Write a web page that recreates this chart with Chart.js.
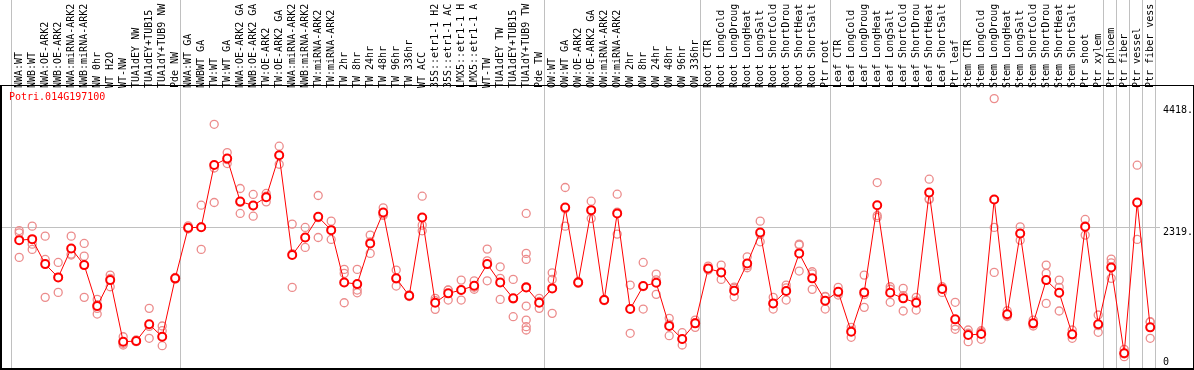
<!DOCTYPE html>
<html><head><meta charset="utf-8">
<script src="https://cdn.jsdelivr.net/npm/chart.js@4.4.1/dist/chart.umd.min.js"></script>
<style>html,body{margin:0;padding:0;background:#fff;overflow:hidden}</style>
</head><body><canvas id="c" width="1194" height="370"></canvas>
<script>
const geneId = "Potri.014G197100";
const categories = ["NWA:WT","NWB:WT","NWA:OE-ARK2","NWB:OE-ARK2","NWA:miRNA-ARK2","NWB:miRNA-ARK2","NW 0hr","WT H2O","WT-NW","TUA1dEY NW","TUA1dEY+TUB15","TUA1dY+TUB9 NW","Pde NW",
"NWA:WT GA","NWBWT GA","TW:WT","TW:WT GA","NWA:OE-ARK2 GA","NWB:OE-ARK2 GA","TW:OE-ARK2","TW:OE-ARK2 GA","NWA:miRNA-ARK2","NWB:miRNA-ARK2","TW:miRNA-ARK2","TW:miRNA-ARK2","TW 2hr","TW 8hr","TW 24hr","TW 48hr","TW 96hr","TW 336hr","WT ACC","35S::etr1-1 H2","35S::etr1-1 AC","LMX5::etr1-1 H","LMX5::etr1-1 A","WT-TW","TUA1dEY TW","TUA1dEY+TUB15","TUA1dY+TUB9 TW","Pde TW",
"OW:WT","OW:WT GA","OW:OE-ARK2","OW:OE-ARK2 GA","OW:miRNA-ARK2","OW:miRNA-ARK2","OW 2hr","OW 8hr","OW 24hr","OW 48hr","OW 96hr","OW 336hr",
"Root CTR","Root LongCold","Root LongDroug","Root LongHeat","Root LongSalt","Root ShortCold","Root ShortDrou","Root ShortHeat","Root ShortSalt","Ptr root",
"Leaf CTR","Leaf LongCold","Leaf LongDroug","Leaf LongHeat","Leaf LongSalt","Leaf ShortCold","Leaf ShortDrou","Leaf ShortHeat","Leaf ShortSalt","Ptr leaf",
"Stem CTR","Stem LongCold","Stem LongDroug","Stem LongHeat","Stem LongSalt","Stem ShortCold","Stem ShortDrou","Stem ShortHeat","Stem ShortSalt","Ptr shoot","Ptr xylem",
"Ptr phloem","Ptr fiber","Ptr vessel","Ptr fiber vess"];
const means = [2104,2121,1690,1461,1961,1673,966,1414,350,362,650,436,1444,
2317,2328,3403,3513,2772,2703,2846,3571,1846,2150,2506,2277,1374,1345,2047,2582,1444,1144,2496,1023,1185,1242,1316,1690,1374,1099,1288,1023,
1271,2668,1374,2622,1069,2565,914,1311,1368,621,397,667,
1616,1547,1230,1702,2237,1012,1225,1875,1444,1058,
1213,523,1202,2708,1195,1099,1023,2927,1259,736,
466,483,2806,823,2220,667,1414,1195,477,2334,650,
1633,150,2754,598];
const replicates = [
[2270,2230,1806],[2346,2035,1944],[2173,1771,1116],[1719,1462,1202],[2173,1863,1847],[2047,1828,1116],[1081,990,926,828],[1500,1443,1299],[436,321,293],[380,355,350],[926,615,409],[621,540,281],[1460,1430,1440],
[2350,2300,2300],[2708,2332,1944],[4105,3350,2754],[3617,3495,3427],[2996,2755,2565],[2893,2698,2518],[2910,2863,2765],[3726,3572,3415],[2381,1869,1288],[2323,2149,1978],[2875,2493,2150],[2432,2283,2116],[1599,1530,1023],[1599,1242,1195],[2191,2075,1875],[2662,2553,2531],[1587,1434,1311],[1160,1130,1142],[2863,2363,2265],[1099,1061,909],[1244,1242,1069],[1414,1243,1069],[1402,1290,1256],[1949,1747,1402],[1644,1444,1081],[1426,1089,782],[2565,1875,1771,1300,966,724,609,552],[1099,1044,926],
[1540,1426,840],[3013,2645,2346],[1390,1374,1358],[2777,2611,2478],[1060,1080,1067],[2898,2589,2208],[1328,919,495],[1719,1300,914],[1518,1418,1168],[754,655,454],[506,392,293],[724,679,598],
[1656,1605,1587],[1673,1542,1426],[1293,1271,1126],[1816,1663,1627],[2432,2204,2075],[1116,1006,914],[1328,1278,1069],[2035,2020,1570],[1558,1520,1254],[1134,1126,914],
[1288,1195,1156],[598,545,426],[1500,1163,943],[3099,2529,2496],[1299,1256,1030],[1271,1146,880],[1116,1056,897],[3157,2818,2806],[1299,1276,1202],[1030,621,564],
[552,496,350],[540,518,391],[4548,2323,1547],[885,800,785],[2334,2222,2104],[724,657,621],[1673,1530,1012],[1414,1288,880],[552,470,409],[2461,2350,2191],[811,627,512],
[1777,1713,1444],[219,140,91],[3398,2748,2116],[695,690,409]];
const yTickValues = [0, 2319, 4418];
const yTickLabels = ["0", "2319.", "4418."];
const groupEnds = [0, 13, 41, 53, 63, 73, 84, 85, 86, 87, 88];

const FONT = "'DejaVu Sans Mono', 'Liberation Mono', monospace";
const meanPoints = means.map((v, i) => ({x: i + 1, y: v}));
const repPoints = replicates.flatMap((arr, i) => arr.map(v => ({x: i + 1, y: v})));

const framePlugin = {
  id: 'frame',
  beforeDatasetsDraw(chart) {
    const ctx = chart.ctx, xs = chart.scales.x;
    ctx.save();
    ctx.strokeStyle = '#c0c0c0';
    ctx.lineWidth = 1;
    groupEnds.forEach(g => {
      const px = Math.round(xs.getPixelForValue(g + 0.385)) + 0.5;
      ctx.beginPath(); ctx.moveTo(px, 0); ctx.lineTo(px, chart.height); ctx.stroke();
    });
    ctx.fillStyle = '#ff0000';
    ctx.font = "10px " + FONT;
    ctx.textBaseline = 'alphabetic';
    ctx.textAlign = 'left';
    ctx.fillText(geneId, 9, 100);
    ctx.restore();
  },
  afterDraw(chart) {
    const ctx = chart.ctx, a = chart.chartArea, W = chart.width, H = chart.height;
    ctx.save();
    ctx.fillStyle = '#000';
    ctx.fillRect(0, a.top - 1, W, 1);
    ctx.fillRect(0, H - 2, W, 2);
    ctx.fillRect(0, a.top - 1, 2, H - a.top + 1);
    ctx.fillRect(W - 1, a.top - 1, 1, H - a.top + 1);
    ctx.restore();
  }
};

function zeroPad(s) { s.paddingLeft = 0; s.paddingRight = 0; s.paddingTop = 0; s.paddingBottom = 0; }

new Chart(document.getElementById('c'), {
  data: {
    datasets: [
      {type: 'line', data: meanPoints, order: 1, borderColor: '#ff0000', borderWidth: 1, tension: 0,
       pointRadius: 4, pointBorderWidth: 2, pointBorderColor: '#ff0000', pointBackgroundColor: '#ffffff'},
      {type: 'scatter', data: repPoints, order: 2, pointRadius: 4, pointBorderWidth: 1.3,
       pointBorderColor: 'rgba(236,140,140,1)', pointBackgroundColor: 'rgba(0,0,0,0)'}
    ]
  },
  options: {
    responsive: false, animation: false, devicePixelRatio: 1,
    layout: {autoPadding: false, padding: {left: 2, right: 0, top: 0, bottom: 2}},
    plugins: {legend: {display: false}, tooltip: {enabled: false}, title: {display: false}},
    scales: {
      x: {
        type: 'linear', position: 'top', min: -0.323, max: 88.754,
        afterFit: s => { s.height = 86; zeroPad(s); },
        afterBuildTicks: s => { s.ticks = categories.map((_, i) => ({value: i + 1})); },
        ticks: {autoSkip: false, maxRotation: 90, minRotation: 90, padding: 2, mirror: true, color: '#000',
          font: {family: FONT, size: 10}, callback: v => categories[v - 1]},
        grid: {display: false, drawTicks: false}, border: {display: false}
      },
      y: {
        type: 'linear', position: 'right', min: -104, max: 4766,
        afterFit: s => { s.width = 34; zeroPad(s); },
        afterBuildTicks: s => { s.ticks = yTickValues.map(v => ({value: v})); },
        ticks: {padding: 3, color: '#000', font: {family: FONT, size: 10, lineHeight: 0.9},
          callback: (v, i) => i === 0 ? yTickLabels[i] : ['', yTickLabels[i]]},
        grid: {drawTicks: false, lineWidth: 1,
          color: c => (c.tick && c.tick.value === 2319) ? '#c0c0c0' : 'rgba(0,0,0,0)'},
        border: {display: false}
      }
    }
  },
  plugins: [framePlugin]
});
</script></body></html>
